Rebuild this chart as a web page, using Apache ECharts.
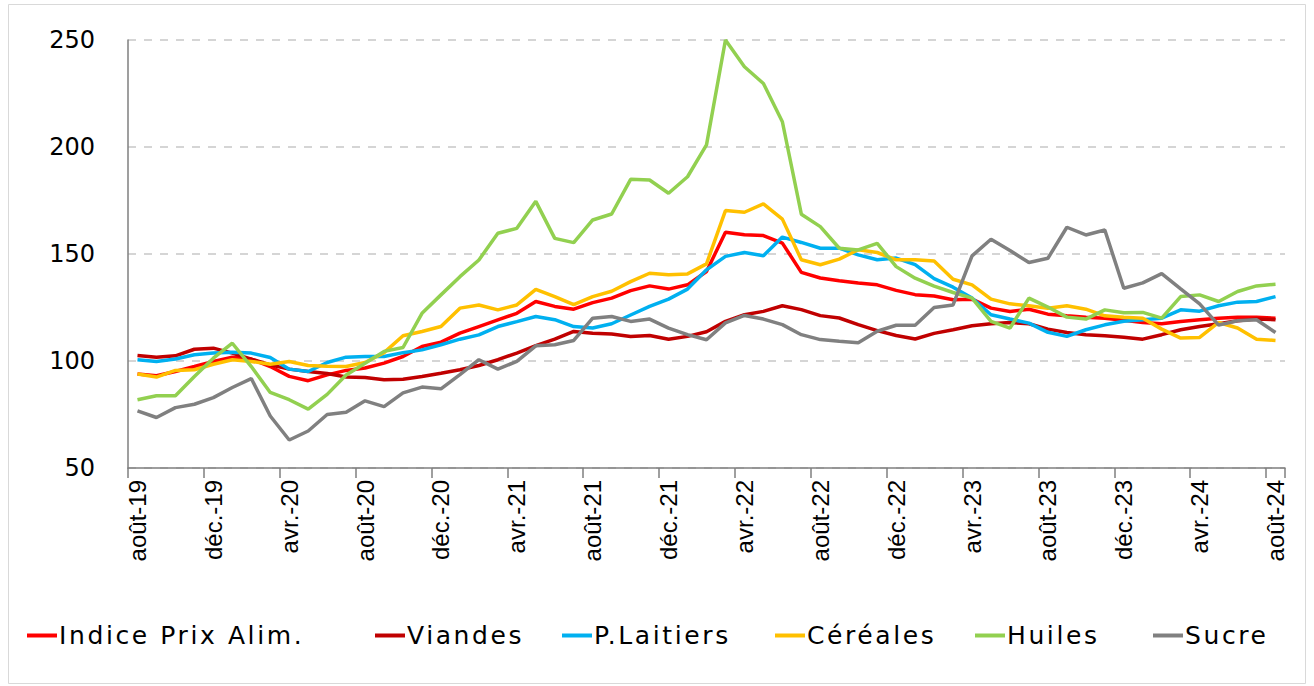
<!DOCTYPE html>
<html>
<head>
<meta charset="utf-8">
<script src="https://cdn.jsdelivr.net/npm/echarts@6/dist/echarts.min.js"></script>
<style>
html,body{margin:0;padding:0;background:#fff;}
#chart{width:1314px;height:686px;}
#chart text[style*="lgdfont"], #chart text[font-family*="lgdfont"]{letter-spacing:2.6px;}
</style>
</head>
<body>
<div id="chart"></div>
<script>
// Month labels (French abbreviations), Aug 2019 .. Aug 2024
const monthAbbr = ["janv.","févr.","mars","avr.","mai","juin","juil.","août","sept.","oct.","nov.","déc."];
const categories = [];
for (let k = 0; k < 61; k++) {
  const m = (7 + k) % 12;
  const y = 19 + Math.floor((7 + k) / 12);
  categories.push(monthAbbr[m] + "-" + y);
}

const seriesNames = ["Indice Prix Alim.", "Viandes", "P.Laitiers", "Céréales", "Huiles", "Sucre"];

const indice = [93.9,93.1,95.1,97.4,99.8,101.8,100.9,97.4,92.8,90.8,93.5,95.6,96.7,99.0,102.1,106.8,108.8,113.0,116.1,119.2,122.3,127.8,125.5,124.2,127.3,129.4,132.9,135.1,133.6,135.6,141.8,160.2,159.0,158.6,155.1,141.4,138.8,137.5,136.4,135.6,133.0,131.0,130.4,128.6,128.9,124.7,123.1,124.2,121.9,121.1,120.5,120.0,119.0,118.0,117.4,118.5,119.3,120.0,120.5,120.4,120.0];
const viandes = [102.6,101.8,102.4,105.5,106.0,103.7,100.9,98.2,96.2,95.1,94.2,92.5,92.3,91.2,91.5,92.8,94.3,95.9,97.9,100.6,103.7,107.2,110.2,113.8,113.0,112.6,111.5,111.9,110.2,111.5,113.7,118.5,121.6,123.2,125.8,124.0,121.2,120.1,117.0,114.2,111.9,110.3,112.9,114.6,116.5,117.4,118.0,117.4,114.9,113.3,112.3,111.8,111.1,110.2,112.3,114.6,116.1,117.4,118.8,119.6,119.3];
const laitiers = [100.6,99.8,100.9,102.9,103.7,104.1,103.7,101.6,96.2,95.1,99.3,101.8,102.1,102.1,103.9,105.2,107.6,110.2,112.2,116.1,118.4,120.8,119.3,116.1,115.4,117.4,121.5,125.5,128.9,133.6,142.6,148.9,150.7,149.2,157.9,155.4,152.7,152.7,149.6,147.3,148.1,145.0,138.5,134.5,129.4,121.6,119.6,117.7,113.4,111.5,114.6,116.9,118.6,119.3,120.0,123.9,123.3,125.8,127.5,127.8,130.1];
const cereales = [93.9,92.5,95.6,95.9,98.5,100.6,99.8,98.5,99.8,97.9,97.6,97.4,99.3,103.9,111.8,113.8,116.1,124.7,126.2,123.9,126.2,133.5,130.1,126.3,130.1,132.6,137.1,141.0,140.3,140.7,145.4,170.3,169.5,173.4,166.3,147.3,145.0,147.6,152.0,150.7,147.3,147.3,146.7,138.2,135.6,128.9,126.7,125.8,124.7,125.8,124.2,121.1,120.4,120.0,114.9,110.7,111.0,118.0,115.4,110.2,109.6];
const huiles = [81.9,83.8,83.8,92.8,101.3,108.3,97.4,85.3,81.9,77.5,84.4,93.5,99.0,104.5,106.3,122.3,130.9,139.4,147.2,159.7,162.0,174.6,157.3,155.3,165.9,168.7,184.9,184.6,178.4,186.1,201.0,250.0,237.5,229.7,211.8,168.6,162.8,152.7,151.9,155.0,144.1,138.7,135.0,132.0,129.4,118.5,115.4,129.4,125.2,120.5,119.6,123.9,122.5,122.7,120.0,130.1,130.9,127.8,132.5,135.1,135.9];
const sucre = [76.7,73.6,78.2,79.8,82.9,87.6,91.8,74.3,63.1,67.3,75.0,76.0,81.4,78.7,85.1,87.8,87.0,93.6,100.6,96.2,99.8,107.1,107.6,109.6,120.0,120.8,118.5,119.6,115.4,112.3,109.9,117.8,121.3,119.6,117.0,112.3,110.0,109.2,108.5,113.9,116.7,116.7,125.0,126.2,149.1,156.9,151.6,146.0,148.0,162.5,158.9,161.2,134.0,136.5,140.8,133.7,126.7,116.8,118.8,119.3,113.3];

const seriesData = [indice, viandes, laitiers, cereales, huiles, sucre];
const colors = ["#ff0000", "#c00000", "#00b0f0", "#ffc000", "#92d050", "#808080"];
const legendLeft = [22, 370, 557, 770, 970, 1148];

const chart = echarts.init(document.getElementById('chart'), null, {renderer: 'svg'});

const legends = seriesNames.map((n, k) => ({
  data: [n],
  left: legendLeft[k],
  top: 618,
  icon: 'rect',
  itemWidth: 30,
  itemHeight: 4,
  itemGap: 0,
  textStyle: {fontSize: 25, color: '#000', fontFamily: "'DejaVu Sans', lgdfont", padding: [0,0,0,-3]},
  selectedMode: false
}));

const option = {
  backgroundColor: '#fff',
  animation: false,
  color: colors,
  legend: legends,
  grid: {left: 128, right: 29, top: 40, bottom: 218},
  xAxis: {
    type: 'category',
    data: categories,
    boundaryGap: true,
    axisLine: {lineStyle: {color: '#7f7f7f', width: 1.5}},
    axisTick: {show: true, interval: 3, length: 10, lineStyle: {color: '#7f7f7f', width: 1.5}},
    axisLabel: {interval: 3, rotate: 90, margin: 12, fontSize: 24, color: '#000', fontFamily: 'Liberation Sans'},
    splitLine: {show: false}
  },
  yAxis: {
    type: 'value',
    min: 50, max: 250, interval: 50,
    axisLine: {show: true, lineStyle: {color: '#7f7f7f', width: 1.5}},
    axisTick: {show: false},
    axisLabel: {margin: 33, fontSize: 24, color: '#000', fontFamily: 'DejaVu Sans'},
    splitLine: {show: true, lineStyle: {color: '#c8c8c8', type: [8, 8], width: 1.5}}
  },
  graphic: [{
    type: 'rect',
    shape: {x: 8.5, y: 4.5, width: 1297, height: 679},
    style: {fill: 'none', stroke: '#d9d9d9', lineWidth: 1},
    silent: true,
    z: -1
  }],
  series: seriesNames.map((n, k) => ({
    name: n,
    type: 'line',
    data: seriesData[k],
    symbol: 'none',
    lineStyle: {width: 3.5, color: colors[k]},
    itemStyle: {color: colors[k]},
    emphasis: {disabled: true}
  }))
};
chart.setOption(option);
</script>
</body>
</html>
